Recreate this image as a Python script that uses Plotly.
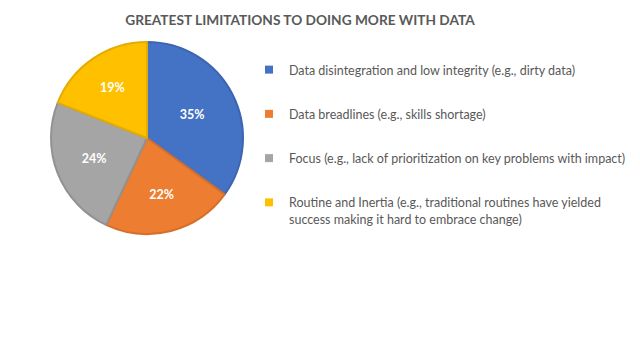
import plotly.graph_objects as go

categories = [
    "Data disintegration and low integrity (e.g., dirty data)",
    "Data breadlines (e.g., skills shortage)",
    "Focus (e.g., lack of prioritization on key problems with impact)",
    "Routine and Inertia (e.g., traditional routines have yielded<br>success making it hard to embrace change)",
]
values = [35, 22, 24, 19]
colors = ["#4472C4", "#ED7D31", "#A5A5A5", "#FFC000"]
edge_colors = ["#3D66B2", "#D56F2A", "#929292", "#E5AC00"]

W, H = 640, 357
OFF = 8  # page body margin offset
cx, cy, r = 147 - OFF, 138 - OFF, 96

fig = go.Figure()
fig.add_trace(go.Pie(
    labels=categories,
    values=values,
    sort=False,
    direction="clockwise",
    rotation=0,
    marker=dict(colors=colors, line=dict(color=edge_colors, width=2)),
    texttemplate="%{percent:.0%}",
    textposition="inside",
    insidetextorientation="horizontal",
    textfont=dict(family="Lato", size=12.5, color="white", weight="bold"),
    domain=dict(x=[(cx - r) / W, (cx + r) / W], y=[1 - (cy + r) / H, 1 - (cy - r) / H]),
    hoverinfo="label+percent",
    showlegend=False,
))

# legend entries (one group per category so spacing can be set)
for i, (lab, col) in enumerate(zip(categories, colors)):
    fig.add_trace(go.Scatter(
        x=[None], y=[None], mode="markers", name=lab,
        marker=dict(symbol="square", size=8, color=col),
        legendgroup=f"g{i}", showlegend=True, hoverinfo="skip",
    ))

fig.update_layout(
    width=W, height=H,
    margin=dict(l=0, r=0, t=0, b=0),
    paper_bgcolor="white",
    plot_bgcolor="white",
    xaxis=dict(visible=False),
    yaxis=dict(visible=False),
    title=dict(
        text="<b>GREATEST LIMITATIONS TO DOING MORE WITH DATA</b>",
        x=(300 - OFF) / W, xanchor="center", y=1 - (20 - OFF) / H, yanchor="middle",
        font=dict(family="Lato", size=13.7, color="#595959"),
    ),
    legend=dict(
        x=(249 - OFF) / W, xanchor="left", y=1 - (55 - OFF) / H, yanchor="top",
        font=dict(family="Lato", size=12.5, color="#595959"),
        valign="top",
        tracegroupgap=25,
        bgcolor="rgba(0,0,0,0)",
    ),
    showlegend=True,
)

fig.write_html("out.html")
